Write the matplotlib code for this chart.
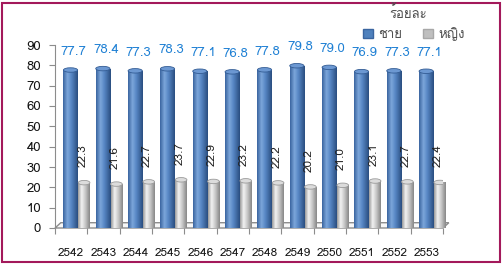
import numpy as np
import matplotlib
matplotlib.use("Agg")
import matplotlib.pyplot as plt
from matplotlib import font_manager
from matplotlib.ft2font import FT2Font
from matplotlib.patches import Ellipse, Rectangle, Polygon, Patch
from matplotlib.colors import LinearSegmentedColormap

years = ["2542", "2543", "2544", "2545", "2546", "2547",
         "2548", "2549", "2550", "2551", "2552", "2553"]
male = [77.7, 78.4, 77.3, 78.3, 77.1, 76.8, 77.8, 79.8, 79.0, 76.9, 77.3, 77.1]
female = [22.3, 21.6, 22.7, 23.7, 22.9, 23.2, 22.2, 20.2, 21.0, 23.1, 22.7, 22.4]
series_names = ["ชาย", "หญิง"]
unit_label = "ร้อยละ"


def find_thai_font():
    for f in font_manager.fontManager.ttflist:
        try:
            cmap = FT2Font(f.fname).get_charmap()
        except Exception:
            continue
        if 0x0E0A in cmap:
            return f.name
    return None


thai = find_thai_font()
families = ([thai] if thai else []) + ["Liberation Sans", "DejaVu Sans"]
plt.rcParams["font.family"] = families

W, H = 504, 265
fig = plt.figure(figsize=(W / 100, H / 100), dpi=100)
ax = fig.add_axes([55 / W, (H - 228) / H, 388 / W, 183 / H])

x = np.arange(len(years))
blue_cmap = LinearSegmentedColormap.from_list(
    "b", [(0, "#3A65A0"), (0.3, "#7CA6DA"), (0.55, "#5888C6"), (1, "#2A4E80")])
grey_cmap = LinearSegmentedColormap.from_list(
    "g", [(0, "#9A9A9A"), (0.3, "#F2F2F2"), (0.6, "#CACACA"), (1, "#878787")])

bars_m = ax.bar(x - 0.02, male, width=0.44, color="#4F81BD", zorder=3)
bars_f = ax.bar(x + 0.4, female, width=0.36, color="#BFBFBF", zorder=3)

grad = np.linspace(0, 1, 64).reshape(1, -1)
cap_h = 2.2
for bars, cm, cap_fc, cap_ec in [(bars_m, blue_cmap, "#6C98D2", "#335C94"),
                                 (bars_f, grey_cmap, "#DCDCDC", "#9A9A9A")]:
    for p in bars:
        x0, w, h = p.get_x(), p.get_width(), p.get_height()
        im = ax.imshow(grad, extent=(x0, x0 + w, 0, h), aspect="auto",
                       cmap=cm, zorder=3.5)
        im.set_clip_path(p)
        ax.add_patch(Ellipse((x0 + w / 2, 0), w, cap_h, fc=cm(0.5),
                             ec="none", zorder=3.4))
        ax.add_patch(Ellipse((x0 + w / 2, h), w, cap_h, fc=cap_fc,
                             ec=cap_ec, lw=0.6, zorder=4))

for p, v in zip(bars_m, male):
    ax.text(p.get_x() + p.get_width() / 2 + 0.1, v + 9, f"{v:.1f}",
            ha="center", va="center", color="#1F80D4", fontsize=9.5, zorder=5)
for p, v in zip(bars_f, female):
    ax.text(p.get_x() + p.get_width() / 2 - 0.05, v + 7.5, f"{v:.1f}",
            ha="center", va="bottom", rotation=90, color="#222222",
            fontsize=8.5, zorder=5)

# 3D-ish floor
dx, dy = 0.18, 2.6
floor = Polygon([(-0.5, 0), (11.5, 0), (11.5 + dx, dy), (-0.5 + dx, dy)],
                closed=True, fc="#F7F7F7", ec="#8C8C8C", lw=1.0, zorder=1,
                clip_on=False)
ax.add_patch(floor)

ax.set_xlim(-0.5, 11.5)
ax.set_ylim(0, 90)
ax.set_yticks(range(0, 91, 10))
ax.set_xticks(np.arange(-0.5, 12, 1))
ax.set_xticklabels([])
ax.tick_params(axis="x", length=4, color="#8C8C8C", direction="out")
ax.tick_params(axis="y", length=4, color="#8C8C8C", labelsize=9.5,
               pad=6, labelcolor="#111111")
for i, yr in enumerate(years):
    ax.text(i, -12.3, yr, ha="center", va="center", fontsize=8.5,
            color="#111111")

for s in ["top", "right", "bottom"]:
    ax.spines[s].set_visible(False)
ax.spines["left"].set_color("#8C8C8C")
ax.patch.set_alpha(0)

# legend
handles = [Patch(fc="#4F81BD", ec="#3A65A0"), Patch(fc="#BFBFBF", ec="#A8A8A8")]
fig.legend(handles, series_names, loc="center left",
           bbox_to_anchor=(363 / W, 1 - 34 / H), ncol=2, frameon=False,
           handlelength=0.75, handleheight=0.7, handletextpad=0.4,
           columnspacing=1.6, borderpad=0, borderaxespad=0, fontsize=9.5,
           labelcolor="#505050")
fig.text(408 / W, 1 - 13 / H, unit_label, ha="center", va="center",
         fontsize=9.5, color="#505050")

fig.patches.append(Rectangle((2 / W, 3 / H), 498 / W, 259 / H,
                             transform=fig.transFigure, fill=False,
                             ec="#A3195B", lw=1.5))

fig.savefig("out.png", dpi=100)
